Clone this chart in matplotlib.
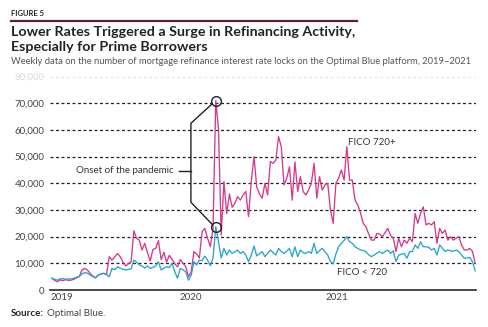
import matplotlib
matplotlib.use('Agg')
import matplotlib.pyplot as plt
from matplotlib.lines import Line2D
import numpy as np

plt.rcParams['font.family'] = ['Lato', 'DejaVu Sans']

# weekly refinance rate locks (thousands)
fico_high = [4.4, 3.6, 3.1, 3.8, 3.5, 3.9, 3.6, 3.7, 4.0, 4.6,
             5.0, 7.5, 8.1, 7.5, 6.2, 5.2, 4.6, 5.6, 6.0, 6.3,
             5.8, 12.5, 11.2, 12.4, 13.7, 12.5, 10.5, 9.0, 9.8, 10.6,
             22.2, 19.4, 18.7, 15.0, 17.5, 14.0, 10.9, 15.2, 15.6, 18.5,
             11.4, 14.1, 10.5, 13.0, 11.5, 9.8, 8.7, 11.4, 10.0, 8.8,
             5.0, 6.8, 14.4, 13.5, 12.0, 21.9, 23.1, 19.4, 16.2, 23.0,
             71.0, 60.6, 20.6, 40.6, 28.7, 36.0, 31.0, 32.5, 35.0, 33.7,
             35.6, 36.9, 27.5, 40.6, 50.0, 38.7, 36.0, 34.4, 40.0, 35.6,
             48.1, 47.5, 48.7, 57.5, 53.7, 39.4, 41.9, 46.2, 33.7, 48.0,
             36.9, 42.5, 36.9, 35.6, 37.5, 40.0, 47.5, 34.4, 42.5, 37.5,
             39.4, 40.0, 30.0, 25.0, 40.0, 42.0, 45.0, 41.2, 53.7, 41.2,
             41.2, 33.7, 31.9, 29.0, 25.0, 23.7, 21.0, 18.7, 18.7, 21.2,
             21.0, 20.0, 21.5, 23.1, 20.5, 19.4, 14.4, 19.4, 16.2, 18.7,
             17.5, 19.4, 18.1, 28.7, 25.0, 28.7, 31.2, 24.4, 25.0, 24.4,
             25.6, 17.5, 23.1, 21.2, 22.5, 18.7, 20.0, 18.7, 19.4, 20.0,
             16.9, 15.0, 15.0, 15.6, 14.5, 10.0]

fico_low = [4.4, 4.0, 3.7, 4.2, 4.3, 4.0, 4.2, 4.1, 4.4, 4.8,
            5.0, 6.0, 6.5, 6.3, 5.6, 5.0, 4.6, 5.6, 6.0, 6.2,
            5.8, 5.0, 8.1, 7.6, 8.7, 8.2, 7.8, 7.5, 7.7, 7.9,
            11.2, 10.4, 9.4, 9.0, 8.2, 9.0, 8.1, 8.5, 9.0, 10.6,
            7.5, 8.2, 8.7, 8.4, 10.0, 6.8, 4.4, 8.1, 7.6, 6.8,
            3.7, 5.5, 10.6, 9.4, 11.2, 11.0, 12.7, 11.2, 9.1, 12.0,
            23.7, 18.0, 12.0, 15.6, 13.1, 15.0, 13.7, 14.3, 15.0, 13.7,
            14.4, 13.1, 10.6, 13.1, 16.5, 12.8, 13.6, 14.4, 12.5, 13.7,
            15.0, 14.0, 13.1, 15.6, 14.4, 13.7, 14.6, 15.6, 12.5, 16.2,
            12.5, 15.0, 14.0, 13.7, 14.4, 13.7, 17.5, 13.7, 14.8, 15.6,
            14.4, 13.1, 10.6, 9.8, 13.5, 16.2, 17.5, 18.6, 20.0, 18.1,
            17.5, 16.2, 15.6, 15.0, 14.8, 14.4, 13.2, 12.5, 13.1, 13.8,
            14.4, 13.7, 14.4, 15.0, 13.7, 14.7, 10.6, 13.1, 13.4, 13.7,
            11.9, 14.4, 14.4, 16.9, 15.6, 18.1, 16.2, 16.2, 16.0, 15.0,
            15.6, 13.1, 16.9, 15.6, 14.4, 15.0, 14.7, 14.5, 15.0, 14.4,
            13.1, 11.9, 12.0, 12.2, 10.6, 7.2]

year_labels = ['2019', '2020', '2021']
year_pos = [3.7, 50.9, 104.4]
y_ticks = [0, 10000, 20000, 30000, 40000, 50000, 60000, 70000, 80000]

PINK = '#d6388b'
BLUE = '#2aa3cd'
DARK = '#2b2b2b'

weeks = np.arange(len(fico_high))
high = np.array(fico_high) * 1000
low = np.array(fico_low) * 1000

fig = plt.figure(figsize=(4.88, 3.27), dpi=100)
ax = fig.add_axes([50 / 488, 1 - 290 / 327, 426 / 488, (290 - 76.6) / 327])

ax.set_xlim(-0.7, 155.3)
ax.set_ylim(0, 80000)

for v in y_ticks[1:]:
    ax.axhline(v, color='#222222', lw=0.9, ls=(0, (2.4, 2.0)),
               alpha=0.12 if v == 80000 else 1, zorder=1)

ax.plot(weeks, high, color=PINK, lw=0.95, zorder=3)
ax.plot(weeks, low, color=BLUE, lw=0.95, zorder=3)

for s in ['top', 'right', 'left']:
    ax.spines[s].set_visible(False)
ax.spines['bottom'].set_color(DARK)
ax.spines['bottom'].set_linewidth(1.2)

ax.set_yticks(y_ticks)
ax.set_yticklabels([f'{v:,}' for v in y_ticks])
ax.set_xticks(year_pos)
ax.set_xticklabels(year_labels)
ax.tick_params(axis='both', length=0, labelsize=7, labelcolor='#444444')
ax.tick_params(axis='y', pad=4)
ax.tick_params(axis='x', pad=2.5)
for lbl in ax.get_yticklabels():
    if lbl.get_text() == '80,000':
        lbl.set_alpha(0.2)

# pandemic annotation
pk = int(np.argmax(high))
ax.plot([pk, pk], [high[pk], low[pk]], 'o', ms=7, mfc='none', mec='#222222',
        mew=1.0, zorder=4)
bx = 50.9
ax.plot([pk - 1.4, bx, bx, pk - 1.4], [high[pk] - 1300, 62500, 32900, low[pk] + 1000],
        color='#222222', lw=1.0, zorder=4)
ax.plot([46.5, bx], [44700, 44700], color='#222222', lw=1.0, zorder=4)
ax.text(44.5, 44700, 'Onset of the pandemic', ha='right', va='center',
        fontsize=7, color='#333333')

ax.text(108.4, 55200, 'FICO 720+', ha='left', va='center', fontsize=7, color='#333333')
ax.text(104.3, 6500, 'FICO < 720', ha='left', va='center', fontsize=7, color='#333333')

# header
fig.text(11 / 488, 1 - 14 / 327, 'FIGURE 5', fontsize=5.5, fontweight='bold',
         color='#222222', va='center')
fig.add_artist(Line2D([11 / 488, 357 / 488], [1 - 20.5 / 327] * 2,
                      color='#5c1f3a', lw=1.6))
fig.text(11 / 488, 1 - 32 / 327, 'Lower Rates Triggered a Surge in Refinancing Activity,',
         fontsize=10.3, fontweight='bold', color='#222222', va='center')
fig.text(11 / 488, 1 - 47 / 327, 'Especially for Prime Borrowers',
         fontsize=10.3, fontweight='bold', color='#222222', va='center')
fig.text(11 / 488, 1 - 62 / 327,
         'Weekly data on the number of mortgage refinance interest rate locks on the Optimal Blue platform, 2019\u20132021',
         fontsize=6.75, color='#555555', va='center')

src = fig.text(11 / 488, 1 - 313 / 327, 'Source:', fontsize=7, fontweight='bold',
               color='#222222', va='center')
fig.canvas.draw()
bb = src.get_window_extent(fig.canvas.get_renderer())
fig.text((bb.x1 + 3) / 488, 1 - 313 / 327, 'Optimal Blue.', fontsize=7,
         color='#444444', va='center')

fig.savefig('out.png', dpi=100)
plt.close(fig)
